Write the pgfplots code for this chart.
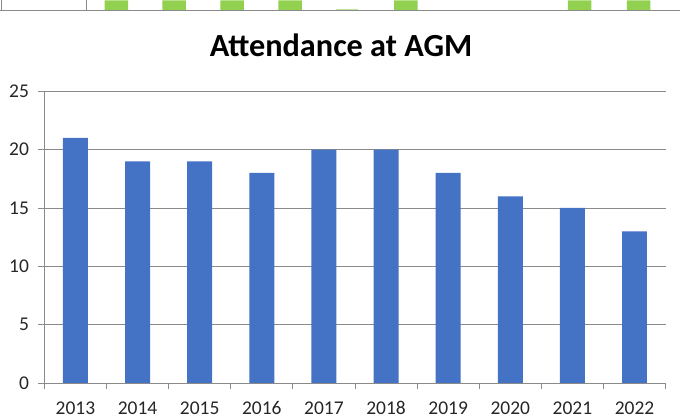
\documentclass[border=0pt]{standalone}
\usepackage{pgfplots}
\pgfplotsset{compat=1.18}
\usepackage{fontspec}
\setmainfont{Carlito}
\definecolor{barblue}{HTML}{4472C4}
\definecolor{gridgray}{HTML}{8A8A8A}
\definecolor{lgreen}{HTML}{92D050}
\begin{document}
\begin{tikzpicture}[x=1pt,y=1pt]
\path (0,0) rectangle (680,417);
\begin{axis}[
  at={(44pt,34pt)}, anchor=south west, scale only axis,
  width=622pt, height=292pt,
  xmin=-0.5, xmax=9.5, ymin=0, ymax=25,
  enlarge x limits=false,
  ytick={0,5,...,25},
  xtick={-0.5,0.5,...,9.5},
  xticklabels={2013,2014,2015,2016,2017,2018,2019,2020,2021,2022},
  x tick label as interval,
  axis lines=left,
  axis line style={-, draw=gridgray, line width=0.75pt},
  ymajorgrids,
  grid style={draw=gridgray, line width=0.75pt},
  tick align=outside,
  major tick length=6pt,
  tick style={draw=gridgray, line width=0.75pt},
  tick label style={font=\fontsize{19.5}{21}\selectfont, text=black!85},
  yticklabel style={xshift=-6pt},
  xticklabel style={yshift=-9pt},
  /pgf/number format/assume math mode=true,
  title={Attendance at AGM},
  title style={at={(axis description cs:0.5,1)}, anchor=base, yshift=29pt, xshift=-14pt,
    font=\bfseries\fontsize{32.3}{35}\selectfont},
]
\addplot[ybar, bar width=25pt, fill=barblue, draw=none]
  coordinates {(0,21)(1,19)(2,19)(3,18)(4,20)(5,20)(6,18)(7,16)(8,15)(9,13)};
\end{axis}
\begin{axis}[
  at={(0pt,407pt)}, anchor=south west, scale only axis,
  width=680pt, height=10pt,
  xmin=0, xmax=680, ymin=0, ymax=10,
  hide axis, clip=false,
]
\addplot[ybar, bar width=23.5, fill=lgreen, draw=none]
  coordinates {(116,10)(174,10)(232,10)(290,10)(406,10)(580,10)(639,10)};
\addplot[ybar, bar width=23, fill=lgreen!55, draw=none]
  coordinates {(347,1.2)};
\addplot[gridgray, line width=0.9pt] coordinates {(0,0)(680,0)};
\addplot[gridgray, line width=0.9pt] coordinates {(1.5,0)(1.5,10)};
\addplot[gridgray, line width=0.9pt] coordinates {(86.5,0)(86.5,10)};
\end{axis}
\end{tikzpicture}
\end{document}
